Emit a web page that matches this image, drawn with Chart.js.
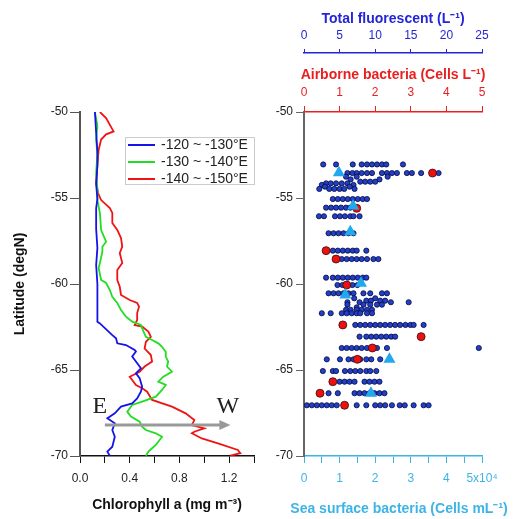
<!DOCTYPE html>
<html>
<head>
<meta charset="utf-8">
<script src="https://cdn.jsdelivr.net/npm/chart.js@4.4.0/dist/chart.umd.min.js"></script>
<style>
  html, body { margin: 0; padding: 0; background: #fff; }
  #wrap { position: relative; width: 524px; height: 519px; }
  #chlCanvas { position: absolute; left: 0; top: 0; }
  #bacCanvas { position: absolute; left: 262px; top: 0; }
</style>
</head>
<body>
<div id="wrap">
  <canvas id="chlCanvas" width="262" height="519"></canvas>
  <canvas id="bacCanvas" width="262" height="519"></canvas>
</div>
<script>
// ---- chlorophyll profiles (latitude, mg m-3) ----
const lat120 = [-50.0, -51.2, -52.3, -53.1, -54.2, -55.05, -55.6, -56.8, -57.9, -58.9, -60.0, -61.2, -62.19, -62.29, -62.97, -63.16, -63.45, -63.55, -63.84, -63.93, -64.22, -64.51, -64.9, -65.19, -65.48, -65.97, -66.26, -66.65, -66.94, -67.13, -67.52, -67.81, -68.1, -68.49, -68.88, -69.46, -69.75, -69.98];
const chl120 = [0.12, 0.13, 0.14, 0.14, 0.13, 0.14, 0.13, 0.13, 0.14, 0.13, 0.14, 0.14, 0.14, 0.16, 0.26, 0.29, 0.30, 0.37, 0.44, 0.45, 0.42, 0.45, 0.49, 0.45, 0.48, 0.50, 0.49, 0.46, 0.42, 0.33, 0.28, 0.22, 0.28, 0.26, 0.28, 0.26, 0.22, 0.24];

const lat130 = [-50.0, -50.8, -51.6, -52.5, -53.5, -54.5, -55.12, -55.87, -56.86, -57.54, -57.83, -58.12, -58.78, -59.07, -59.77, -59.94, -60.35, -60.74, -61.1, -61.51, -61.9, -62.19, -62.38, -62.58, -63.07, -63.26, -63.45, -63.65, -63.94, -64.22, -64.51, -64.8, -65.1, -65.39, -65.68, -65.87, -66.16, -66.55, -66.84, -67.03, -67.42, -67.71, -68.0, -68.29, -68.49, -68.68, -68.88, -69.17, -69.36, -69.55, -69.75, -69.98];
const chl130 = [0.12, 0.14, 0.13, 0.14, 0.13, 0.14, 0.14, 0.16, 0.17, 0.21, 0.18, 0.18, 0.16, 0.15, 0.17, 0.21, 0.24, 0.26, 0.30, 0.33, 0.37, 0.42, 0.49, 0.50, 0.53, 0.58, 0.63, 0.66, 0.69, 0.69, 0.71, 0.70, 0.74, 0.67, 0.63, 0.69, 0.66, 0.61, 0.50, 0.42, 0.38, 0.41, 0.48, 0.50, 0.53, 0.61, 0.66, 0.63, 0.61, 0.58, 0.55, 0.53];

const lat140 = [-50.0, -50.35, -51.13, -51.3, -51.6, -52.2, -53.1, -54.1, -54.71, -55.12, -55.58, -55.87, -56.45, -56.86, -57.33, -57.83, -58.2, -58.78, -59.19, -59.77, -60.16, -60.64, -60.93, -61.1, -61.32, -61.69, -62.09, -62.39, -62.48, -62.77, -63.07, -63.36, -63.75, -64.13, -64.51, -64.8, -65.1, -65.39, -65.58, -65.87, -66.06, -66.26, -66.74, -67.13, -67.52, -67.91, -68.2, -68.39, -68.59, -68.68, -68.98, -69.27, -69.65, -69.84, -69.98];
const chl140 = [0.16, 0.21, 0.27, 0.21, 0.17, 0.15, 0.14, 0.13, 0.145, 0.17, 0.24, 0.26, 0.26, 0.30, 0.33, 0.34, 0.32, 0.34, 0.30, 0.30, 0.32, 0.33, 0.40, 0.46, 0.475, 0.46, 0.46, 0.44, 0.50, 0.55, 0.57, 0.53, 0.52, 0.57, 0.58, 0.52, 0.48, 0.40, 0.42, 0.45, 0.50, 0.54, 0.58, 0.74, 0.85, 0.92, 0.90, 1.00, 0.92, 0.90, 0.98, 1.11, 1.27, 1.29, 1.21];

const profileLabels = ['-120 ~ -130°E', '-130 ~ -140°E', '-140 ~ -150°E'];

// E -> W arrow (chlorophyll units / latitude)
const arrowLat = -68.2, arrowFrom = 0.2, arrowTo = 1.21;
const dirLat = -67.15, eAt = 0.16, wAt = 1.19;

// ---- bacteria (right panel) ----
// sea surface bacteria, x10^4 cells mL-1, one row per latitude
const seaRows = [
  [-53.05, [0.54, 0.90, 1.37, 1.62, 1.77, 1.91, 2.05, 2.19, 2.31, 2.78]],
  [-53.55, [1.22, 1.36, 1.48, 1.62, 1.77, 1.91, 2.19, 2.33, 2.47, 2.61, 2.89, 3.03, 3.29, 3.78]],
  [-53.76, [1.18, 1.48, 2.35]],
  [-53.92, [1.31, 2.12]],
  [-54.05, [1.58, 1.72, 1.86, 2.00]],
  [-54.15, [0.62, 0.75, 0.90, 1.06, 1.22]],
  [-54.24, [0.50, 1.39]],
  [-54.34, [0.59, 1.28]],
  [-54.47, [0.43, 0.71, 0.85, 1.00, 1.13, 1.42]],
  [-55.06, [0.81, 0.95, 1.09, 1.23, 1.37, 1.51, 1.65, 1.77]],
  [-55.56, [0.62, 0.76, 0.90, 1.04, 1.18, 1.30, 1.48]],
  [-56.06, [0.42, 0.56, 0.87, 1.01, 1.15, 1.30, 1.39, 1.56]],
  [-57.05, [0.69, 0.83, 0.97, 1.11, 1.25, 1.39]],
  [-58.06, [0.81, 0.95, 1.09, 1.23, 1.37, 1.48, 1.75]],
  [-58.55, [1.06, 1.20, 1.34, 1.48, 1.62, 1.77, 1.95, 2.09]],
  [-59.63, [0.62, 0.81, 0.95, 1.09, 1.23, 1.37, 1.51, 1.65, 1.75]],
  [-60.06, [0.94, 1.08, 1.36, 1.50]],
  [-60.54, [0.69, 0.83, 0.97, 1.11, 1.25, 1.39, 1.67, 1.86, 2.19, 2.33]],
  [-60.83, [1.41, 2.00]],
  [-60.97, [1.75, 1.88, 2.14, 2.28]],
  [-61.06, [1.22, 1.56, 2.44, 2.94]],
  [-61.2, [1.67, 1.86, 2.05, 2.19, 1.22]],
  [-61.36, [1.48]],
  [-61.5, [1.18, 1.31, 1.48, 1.62, 1.77, 1.91]],
  [-61.7, [0.50, 0.75, 1.06, 1.20, 1.34, 1.48, 1.58, 1.77, 1.91]],
  [-62.38, [1.44, 1.58, 1.72, 1.86, 2.00, 2.14, 2.28, 2.42, 2.56, 2.70, 2.85, 2.99, 3.08, 3.36]],
  [-63.06, [1.56, 1.75, 1.89, 2.03, 2.17, 2.31, 2.45, 2.56]],
  [-63.72, [1.06, 1.20, 1.34, 1.48, 1.62, 1.77, 2.05, 2.33, 4.91]],
  [-64.38, [0.64, 1.01, 1.25, 1.39, 1.58, 1.75, 1.89, 2.14]],
  [-65.06, [0.53, 0.81, 0.90, 1.15, 1.30, 1.44, 1.58, 1.75, 1.86, 2.03]],
  [-65.68, [1.00, 1.14, 1.28, 1.42, 1.70, 1.84, 1.98, 2.12]],
  [-66.35, [0.69, 0.95, 1.42, 1.56, 1.70, 1.84, 1.98, 2.12, 2.26]],
  [-67.05, [0.08, 0.22, 0.36, 0.50, 0.64, 0.78, 0.92, 1.48, 1.75, 2.00, 2.14, 2.28, 2.47, 2.69, 2.83, 3.08, 3.36, 3.50]]
];

// airborne bacteria, cells L-1
const airLat = [-53.55, -55.6, -58.06, -58.55, -60.06, -62.38, -63.06, -63.72, -64.38, -65.68, -66.35, -67.05];
const airVal = [3.61, 1.48, 0.62, 0.90, 1.20, 1.09, 3.29, 1.92, 1.50, 0.81, 0.45, 1.14];

// total fluorescent particles, L-1
const fluoLat = [-53.53, -55.47, -56.96, -59.96, -60.64, -64.38, -66.35];
const fluoVal = [4.9, 6.9, 6.5, 8.0, 5.8, 12.0, 9.4];

Chart.defaults.font.family = '"Liberation Sans", Arial, sans-serif';
Chart.defaults.font.size = 12;
Chart.defaults.color = '#222';

function pts(lats, vals) {
  return lats.map((lat, i) => ({ x: vals[i], y: lat }));
}

const legendBox = {
  id: 'legendBox',
  afterDraw(chart) {
    const ctx = chart.ctx, a = chart.chartArea;
    const w = 130, h = 48, x0 = a.right - w + 1, y0 = a.top + 25;
    ctx.save();
    ctx.fillStyle = '#fff';
    ctx.fillRect(x0, y0, w, h);
    ctx.strokeStyle = '#ccc';
    ctx.lineWidth = 1;
    ctx.strokeRect(x0 + 0.5, y0 + 0.5, w - 1, h - 1);
    ctx.font = '14px "Liberation Sans", Arial';
    ctx.textBaseline = 'middle';
    chart.data.datasets.forEach((ds, i) => {
      const y = y0 + 8 + i * 17;
      ctx.strokeStyle = ds.borderColor;
      ctx.lineWidth = 2;
      ctx.beginPath();
      ctx.moveTo(x0 + 3, y);
      ctx.lineTo(x0 + 30, y);
      ctx.stroke();
      ctx.fillStyle = '#222';
      ctx.fillText(ds.label, x0 + 36, y);
    });
    ctx.restore();
  }
};

const ewArrow = {
  id: 'ewArrow',
  afterDatasetsDraw(chart) {
    const { ctx, scales: { x, y } } = chart;
    const yy = y.getPixelForValue(arrowLat);
    const x1 = x.getPixelForValue(arrowFrom), x2 = x.getPixelForValue(arrowTo);
    ctx.save();
    ctx.strokeStyle = '#999';
    ctx.fillStyle = '#999';
    ctx.lineWidth = 3;
    ctx.beginPath();
    ctx.moveTo(x1, yy);
    ctx.lineTo(x2 - 9, yy);
    ctx.stroke();
    ctx.beginPath();
    ctx.moveTo(x2, yy);
    ctx.lineTo(x2 - 11, yy - 5);
    ctx.lineTo(x2 - 11, yy + 5);
    ctx.closePath();
    ctx.fill();
    ctx.fillStyle = '#222';
    ctx.font = '24px "Liberation Serif", serif';
    ctx.textAlign = 'center';
    ctx.textBaseline = 'middle';
    ctx.fillText('E', x.getPixelForValue(eAt), y.getPixelForValue(dirLat));
    ctx.fillText('W', x.getPixelForValue(wAt), y.getPixelForValue(dirLat));
    ctx.restore();
  }
};

// LEFT PANEL: chlorophyll
new Chart(document.getElementById('chlCanvas'), {
  type: 'scatter',
  data: {
    datasets: [
      { label: profileLabels[0], data: pts(lat120, chl120), borderColor: '#1414e6' },
      { label: profileLabels[1], data: pts(lat130, chl130), borderColor: '#22dd22' },
      { label: profileLabels[2], data: pts(lat140, chl140), borderColor: '#ee1414' }
    ].map(d => Object.assign(d, { showLine: true, pointRadius: 0, borderWidth: 1.8, tension: 0 }))
  },
  options: {
    responsive: false,
    animation: false,
    layout: { padding: { top: 112, right: 5, left: 0, bottom: 0 } },
    plugins: { legend: { display: false }, tooltip: { enabled: false } },
    scales: {
      x: {
        type: 'linear', position: 'bottom', min: 0, max: 1.4,
        afterFit: s => { s.height = 63; },
        border: { color: '#111', width: 1.5 },
        grid: { drawOnChartArea: false, tickLength: 7, tickColor: '#111' },
        ticks: {
          stepSize: 0.2, autoSkip: false, maxRotation: 0, padding: 8,
          callback: (v, i) => (i % 2 === 0 ? v.toFixed(1) : '')
        },
        title: { display: true, text: 'Chlorophyll a (mg m⁻³)', color: '#111',
                 font: { size: 14, weight: 'bold' }, padding: { top: 0, bottom: 5 } }
      },
      y: {
        min: -70, max: -50,
        afterFit: s => { s.width = 80; },
        border: { color: '#555', width: 2 },
        grid: { drawOnChartArea: false, tickLength: 10, tickColor: '#555' },
        ticks: { stepSize: 5, padding: 2 },
        title: { display: true, text: 'Latitude (degN)', color: '#111',
                 font: { size: 14, weight: 'bold' }, padding: { top: 12, bottom: 0 } }
      }
    }
  },
  plugins: [legendBox, ewArrow]
});

// RIGHT PANEL: bacteria
const seaPoints = [];
seaRows.forEach(([lat, vals]) => vals.forEach(v => seaPoints.push({ x: v, y: lat })));

const seaBlue = '#3cb4e6', airRed = '#e82020', fluoBlue = '#2424d8';

// long axis titles drawn by hand so they are not squeezed to the axis width
const wideTitles = {
  id: 'wideTitles',
  afterDraw(chart) {
    const { ctx, chartArea: a, scales } = chart;
    const cx = (a.left + a.right) / 2;
    ctx.save();
    ctx.font = 'bold 14px "Liberation Sans", Arial';
    ctx.textAlign = 'center';
    ctx.textBaseline = 'middle';
    ctx.fillStyle = airRed;
    ctx.fillText('Airborne bacteria (Cells L⁻¹)', cx, scales.xRed.top + 22);
    ctx.fillStyle = seaBlue;
    ctx.fillText('Sea surface bacteria (Cells mL⁻¹)', cx + 6, scales.x.bottom - 10);
    ctx.restore();
  }
};

new Chart(document.getElementById('bacCanvas'), {
  type: 'scatter',
  data: {
    datasets: [
      { label: 'Total fluorescent', data: pts(fluoLat, fluoVal), xAxisID: 'xBlue', order: 0,
        pointStyle: 'triangle', pointRadius: 7, backgroundColor: '#22a8ec', borderWidth: 0 },
      { label: 'Airborne bacteria', data: pts(airLat, airVal), xAxisID: 'xRed', order: 1,
        pointRadius: 4, backgroundColor: '#ee1010', borderColor: '#3a0a0a', borderWidth: 0.8 },
      { label: 'Sea surface bacteria', data: seaPoints, xAxisID: 'x', order: 2,
        pointRadius: 2.6, backgroundColor: '#2040c8', borderColor: '#0a0a40', borderWidth: 0.8 }
    ]
  },
  options: {
    responsive: false,
    animation: false,
    layout: { padding: { top: 0, right: 42, left: 0, bottom: 0 } },
    plugins: { legend: { display: false }, tooltip: { enabled: false } },
    scales: {
      x: {
        type: 'linear', position: 'bottom', min: 0, max: 5,
        afterFit: s => { s.height = 63; },
        border: { color: seaBlue, width: 1.5 },
        grid: { drawOnChartArea: false, tickLength: 7, tickColor: seaBlue },
        ticks: {
          stepSize: 0.5, autoSkip: false, maxRotation: 0, padding: 8, color: seaBlue,
          callback: v => (v === 5 ? '5x10⁴' : (Number.isInteger(v) ? String(v) : ''))
        }
      },
      xRed: {
        type: 'linear', position: 'top', min: 0, max: 5, weight: 5,
        afterFit: s => { s.height = 59; },
        border: { color: airRed, width: 1.5 },
        grid: { drawOnChartArea: false, tickLength: 6, tickColor: airRed },
        ticks: { stepSize: 1, padding: 6, color: airRed, maxRotation: 0 }
      },
      xBlue: {
        type: 'linear', position: 'top', min: 0, max: 25, weight: 10,
        afterFit: s => { s.height = 53; },
        border: { color: fluoBlue, width: 1.5 },
        grid: { drawOnChartArea: false, tickLength: 4, tickColor: fluoBlue },
        ticks: { stepSize: 5, padding: 6, color: fluoBlue, maxRotation: 0 },
        title: { display: true, text: 'Total fluorescent (L⁻¹)', color: fluoBlue,
                 font: { size: 14, weight: 'bold' }, padding: { top: 11, bottom: 0 } }
      },
      y: {
        min: -70, max: -50,
        afterFit: s => { s.width = 42; },
        border: { color: '#666', width: 2 },
        grid: { drawOnChartArea: false, tickLength: 8, tickColor: '#666' },
        ticks: { stepSize: 5, padding: 3 }
      }
    }
  },
  plugins: [wideTitles]
});
</script>
</body>
</html>
